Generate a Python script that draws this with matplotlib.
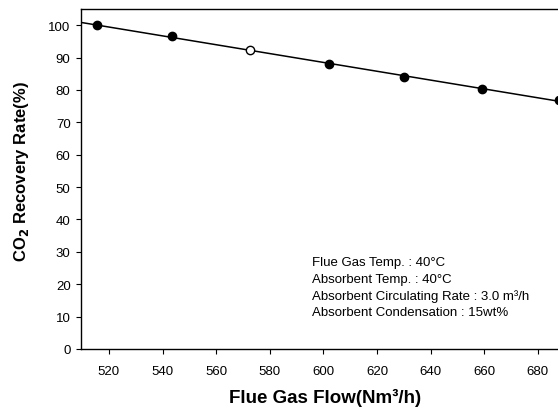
import numpy as np
import matplotlib
matplotlib.use("Agg")
import matplotlib.pyplot as plt

plt.rcParams['font.family'] = ['Liberation Sans', 'DejaVu Sans']

flow_filled = [515.5, 543.5, 602, 630, 659, 688]
rate_filled = [100.0, 96.7, 88.0, 83.9, 80.3, 77.0]
flow_open = [572.5]
rate_open = [92.2]

x_ticks = [520, 540, 560, 580, 600, 620, 640, 660, 680]
y_ticks = [0, 10, 20, 30, 40, 50, 60, 70, 80, 90, 100]

notes = ["Flue Gas Temp. : 40\u00b0C",
         "Absorbent Temp. : 40\u00b0C",
         "Absorbent Circulating Rate : 3.0 m\u00b3/h",
         "Absorbent Condensation : 15wt%"]
note_y_px = [263, 280, 297, 313]

fig = plt.figure(figsize=(5.58, 4.14), dpi=100)
ax = fig.add_axes([81/558, 64/414, 1 - 81/558, 340/414])

all_x = np.array(flow_filled + flow_open)
all_y = np.array(rate_filled + rate_open)
coef = np.polyfit(all_x, all_y, 1)
xl = np.array([509.6, 690])
ax.plot(xl, np.polyval(coef, xl), color='black', lw=1.1, zorder=2)
ax.plot(flow_filled, rate_filled, 'o', color='black', ms=6, zorder=3)
ax.plot(flow_open, rate_open, 'o', mfc='white', mec='black', mew=1.0, ms=6, zorder=3)

ax.set_xlim(509.6, 687.5)
ax.set_ylim(0, 105)
ax.set_xticks(x_ticks)
ax.set_yticks(y_ticks)
ax.tick_params(labelsize=9.5, length=3.5, width=0.8, direction='out')
ax.tick_params(axis='x', pad=8)
ax.tick_params(axis='y', pad=4)
ax.spines['right'].set_visible(False)
for s in ['left', 'bottom', 'top']:
    ax.spines[s].set_linewidth(1.0)

ax.set_xlabel("Flue Gas Flow(Nm\u00b3/h)", fontsize=13.5, fontweight='bold')
ax.xaxis.set_label_coords((325 - 81) / (558 - 81), -(398 - 350) / 340)
ax.set_ylabel("CO$_{\\bf 2}$ Recovery Rate(%)", fontsize=12, fontweight='bold')
ax.yaxis.set_label_coords(-(81 - 22) / (558 - 81), (350 - 172) / 340)
ax.xaxis.label.set_va('center')
ax.yaxis.label.set_va('center')

for txt, yp in zip(notes, note_y_px):
    fig.text(312/558, 1 - yp/414, txt, fontsize=9.5, va='center', ha='left')

fig.savefig("out.png", dpi=100)
